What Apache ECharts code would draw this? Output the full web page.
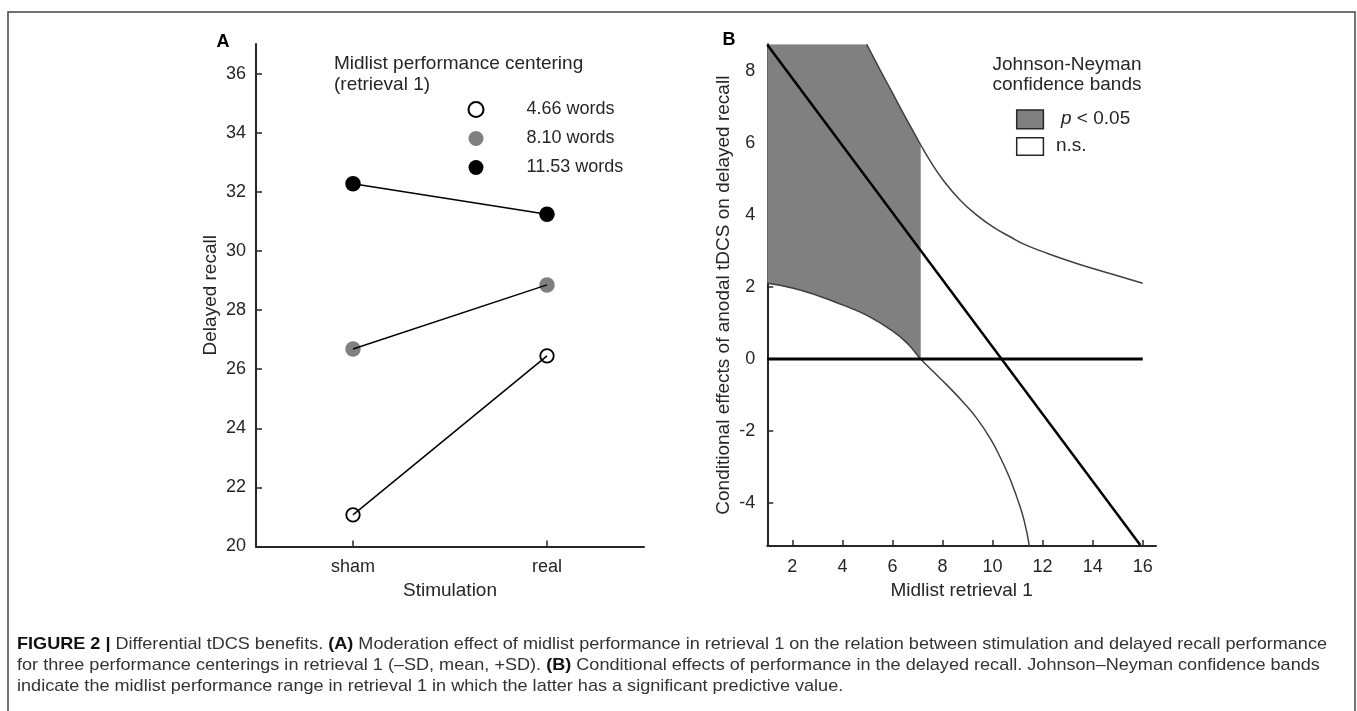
<!DOCTYPE html>
<html><head><meta charset="utf-8">
<script src="https://cdn.jsdelivr.net/npm/echarts@6/dist/echarts.min.js"></script>
<style>html,body{margin:0;padding:0;background:#fff}#c{width:1357px;height:711px}</style>
</head><body><div id="c"></div>
<script>
// ---------- Panel A data ----------
const stimCategories = ['sham', 'real'];
const centerLabels = ['4.66 words', '8.10 words', '11.53 words'];
const recallLow = [21.07, 26.45];   // -SD
const recallMean = [26.68, 28.85];  // mean
const recallHigh = [32.27, 31.24];  // +SD
const yTicksA = [20, 22, 24, 26, 28, 30, 32, 34, 36];

// ---------- Panel B data ----------
const xTicksB = [2, 4, 6, 8, 10, 12, 14, 16];
const yTicksB = [-4, -2, 0, 2, 4, 6, 8];
const effectLine = [[1, 8.72], [15.9, -5.16]];
const zeroLine = [[1, 0], [16, 0]];
const upperCI = [[4.97, 8.73], [5.5, 8.03], [6, 7.38], [6.5, 6.73], [7.12, 5.95], [7.5, 5.5], [8.03, 4.96],
  [8.7, 4.41], [9.37, 3.99], [10, 3.67], [10.7, 3.39], [11.3, 3.17], [12.03, 2.97], [13.36, 2.65], [14.69, 2.37], [16, 2.10]];
const lowerCI = [[1, 2.10], [2, 1.97], [3, 1.76], [4, 1.5], [5, 1.2], [6, 0.78], [6.6, 0.43], [7.13, 0],
  [7.6, -0.33], [8.17, -0.72], [8.8, -1.18], [9.37, -1.65], [9.9, -2.2], [10.3, -2.72], [10.65, -3.25],
  [10.96, -3.82], [11.25, -4.45], [11.47, -5.19]];
const jnBoundary = 7.13;

const FONT = "'Liberation Sans', Arial, Helvetica, sans-serif";
const TXT = '#262626';
const yMinB = -5.19, yMaxB = 8.73;

// significance band polygon (from CI arrays, clipped at top of plot)
const upperIn = upperCI.filter(p => p[0] <= jnBoundary);
const bandTop = [[1, yMaxB]].concat(upperIn, [[jnBoundary, upperIn[upperIn.length - 1][1]]]);
const bandBottom = lowerCI.filter(p => p[0] <= jnBoundary);
const bandPoly = bandTop.concat(bandBottom.slice().reverse());

// ---------- caption ----------
const cv = document.createElement('canvas').getContext('2d');
function w(t, f) { cv.font = f; return cv.measureText(t).width; }
const CAP_SIZE = 17;
const cap1 = [['b', 'FIGURE 2 | '], ['n', 'Differential tDCS benefits. '], ['b', '(A)'],
  ['n', ' Moderation effect of midlist performance in retrieval 1 on the relation between stimulation and delayed recall performance']];
const cap2 = [['n', 'for three performance centerings in retrieval 1 (\u2013SD, mean, +SD). '], ['b', '(B)'],
  ['n', ' Conditional effects of performance in the delayed recall. Johnson\u2013Neyman confidence bands']];
const cap3 = [['n', 'indicate the midlist performance range in retrieval 1 in which the latter has a significant predictive value.']];
let wCap = 0;
cap1.forEach(s => { wCap += w(s[1], (s[0] === 'b' ? 'bold ' : '') + CAP_SIZE + 'px ' + FONT); });
const capScale = 1310 / wCap;
function rich(segs) { return segs.map(s => '{' + s[0] + '|' + s[1] + '}').join(''); }
const capRich = {
  b: { fontWeight: 'bold', fontSize: CAP_SIZE, fontFamily: FONT, fill: '#111' },
  n: { fontSize: CAP_SIZE, fontFamily: FONT, fill: '#333' }
};
function capText(segs, y) {
  return { type: 'text', x: 17, y: y, scaleX: capScale, style: { text: rich(segs), rich: capRich, align: 'left', verticalAlign: 'middle' } };
}
function txt(t, x, y, opt) {
  return { type: 'text', x: x, y: y, style: Object.assign({ text: t, fontSize: 19, fontFamily: FONT, fill: TXT, align: 'left', verticalAlign: 'middle' }, opt || {}) };
}

const axisCommon = {
  axisLine: { show: true, onZero: false, lineStyle: { color: TXT, width: 2 } },
  splitLine: { show: false },
  nameTextStyle: { fontSize: 19, fontFamily: FONT, color: TXT }
};
const tickStyle = { color: TXT, width: 1.5 };

const chart = echarts.init(document.getElementById('c'), null, { renderer: 'canvas' });
const option = {
  animation: false,
  backgroundColor: '#fff',
  grid: [
    { left: 256, top: 44, width: 388, height: 502.5 },
    { left: 767.3, top: 44.3, width: 388.7, height: 501.7 }
  ],
  xAxis: [
    Object.assign({}, axisCommon, {
      gridIndex: 0, type: 'category', data: stimCategories, boundaryGap: true,
      axisTick: { show: true, inside: true, alignWithLabel: true, length: 6, lineStyle: tickStyle },
      axisLabel: { fontSize: 18, fontFamily: FONT, color: TXT, margin: 12 },
      name: 'Stimulation', nameLocation: 'middle', nameGap: 35
    }),
    Object.assign({}, axisCommon, {
      gridIndex: 1, type: 'value', min: 1, max: 16.53,
      axisTick: { show: true, inside: true, length: 6, customValues: xTicksB, lineStyle: tickStyle },
      axisLabel: { fontSize: 18, fontFamily: FONT, color: TXT, margin: 12, customValues: xTicksB },
      name: 'Midlist retrieval 1', nameLocation: 'middle', nameGap: 35
    })
  ],
  yAxis: [
    Object.assign({}, axisCommon, {
      gridIndex: 0, type: 'value', min: 20, max: 37,
      axisTick: { show: true, inside: true, length: 6, customValues: yTicksA, lineStyle: tickStyle },
      axisLabel: { fontSize: 18, fontFamily: FONT, color: TXT, margin: 10, customValues: yTicksA },
      name: 'Delayed recall', nameLocation: 'middle', nameGap: 36
    }),
    Object.assign({}, axisCommon, {
      gridIndex: 1, type: 'value', min: yMinB, max: yMaxB,
      axisTick: { show: true, inside: true, length: 6, customValues: yTicksB, lineStyle: tickStyle },
      axisLabel: { fontSize: 18, fontFamily: FONT, color: TXT, margin: 12, customValues: yTicksB },
      name: 'Conditional effects of anodal tDCS on delayed recall', nameLocation: 'middle', nameGap: 34
    })
  ],
  legend: {
    data: centerLabels, orient: 'vertical', left: 462.5, top: 95.5,
    itemWidth: 15, itemHeight: 15, itemGap: 11, selectedMode: false,
    textStyle: { fontSize: 18, fontFamily: FONT, color: TXT, padding: [0, 0, 0, 38] }
  },
  series: [
    { name: centerLabels[0], type: 'scatter', xAxisIndex: 0, yAxisIndex: 0, data: recallLow, symbolSize: 13.5, z: 2,
      itemStyle: { color: '#fff', borderColor: '#000', borderWidth: 1.8, opacity: 1 } },
    { name: centerLabels[1], type: 'scatter', xAxisIndex: 0, yAxisIndex: 0, data: recallMean, symbolSize: 15.5, z: 2,
      itemStyle: { color: '#808080', opacity: 1 } },
    { name: centerLabels[2], type: 'scatter', xAxisIndex: 0, yAxisIndex: 0, data: recallHigh, symbolSize: 15.5, z: 2,
      itemStyle: { color: '#000', opacity: 1 } },
    { name: 'l1', type: 'line', xAxisIndex: 0, yAxisIndex: 0, data: recallLow, symbol: 'none', z: 3, lineStyle: { color: '#000', width: 1.5 } },
    { name: 'l2', type: 'line', xAxisIndex: 0, yAxisIndex: 0, data: recallMean, symbol: 'none', z: 3, lineStyle: { color: '#000', width: 1.5 } },
    { name: 'l3', type: 'line', xAxisIndex: 0, yAxisIndex: 0, data: recallHigh, symbol: 'none', z: 3, lineStyle: { color: '#000', width: 1.5 } },
    { name: 'band', type: 'custom', xAxisIndex: 1, yAxisIndex: 1, data: [[1, 0]], z: 1, silent: true, clip: true,
      renderItem: function (params, api) {
        return { type: 'polygon', shape: { points: bandPoly.map(p => api.coord(p)) }, style: { fill: '#808080', stroke: null } };
      } },
    { name: 'upper', type: 'line', xAxisIndex: 1, yAxisIndex: 1, data: upperCI, symbol: 'none', smooth: 0.5, z: 3,
      lineStyle: { color: '#404040', width: 1.5 } },
    { name: 'lower', type: 'line', xAxisIndex: 1, yAxisIndex: 1, data: lowerCI, symbol: 'none', smooth: 0.5, z: 3,
      lineStyle: { color: '#404040', width: 1.5 } },
    { name: 'zero', type: 'line', xAxisIndex: 1, yAxisIndex: 1, data: zeroLine, symbol: 'none', z: 4,
      lineStyle: { color: '#000', width: 3 } },
    { name: 'effect', type: 'line', xAxisIndex: 1, yAxisIndex: 1, data: effectLine, symbol: 'none', z: 5,
      lineStyle: { color: '#000', width: 2.5 } }
  ],
  graphic: { elements: [
    { type: 'rect', shape: { x: 8, y: 12, width: 1347, height: 740 }, style: { fill: null, stroke: '#444', lineWidth: 1.5 }, z: 0 },
    txt('A', 223, 42, { fontWeight: 'bold', fontSize: 18, align: 'center', fill: '#000' }),
    txt('B', 729, 40, { fontWeight: 'bold', fontSize: 18, align: 'center', fill: '#000' }),
    txt('Midlist performance centering', 334, 63.3),
    txt('(retrieval 1)', 334, 85),
    txt('Johnson-Neyman', 1067, 64.3, { align: 'center' }),
    txt('confidence bands', 1067, 84.3, { align: 'center' }),
    { type: 'rect', shape: { x: 1016.7, y: 110, width: 26.7, height: 18.7 }, style: { fill: '#808080', stroke: TXT, lineWidth: 1.5 } },
    { type: 'rect', shape: { x: 1016.7, y: 137.7, width: 26.7, height: 17.6 }, style: { fill: '#fff', stroke: TXT, lineWidth: 1.5 } },
    { type: 'text', x: 1061, y: 118.7, style: { text: '{i|p} < 0.05', fontSize: 19, fontFamily: FONT, fill: TXT, verticalAlign: 'middle',
      rich: { i: { fontStyle: 'italic', fontSize: 19, fontFamily: FONT, fill: TXT } } } },
    txt('n.s.', 1056, 146),
    capText(cap1, 644),
    capText(cap2, 665.7),
    capText(cap3, 686.7)
  ] }
};
chart.setOption(option);
</script></body></html>
